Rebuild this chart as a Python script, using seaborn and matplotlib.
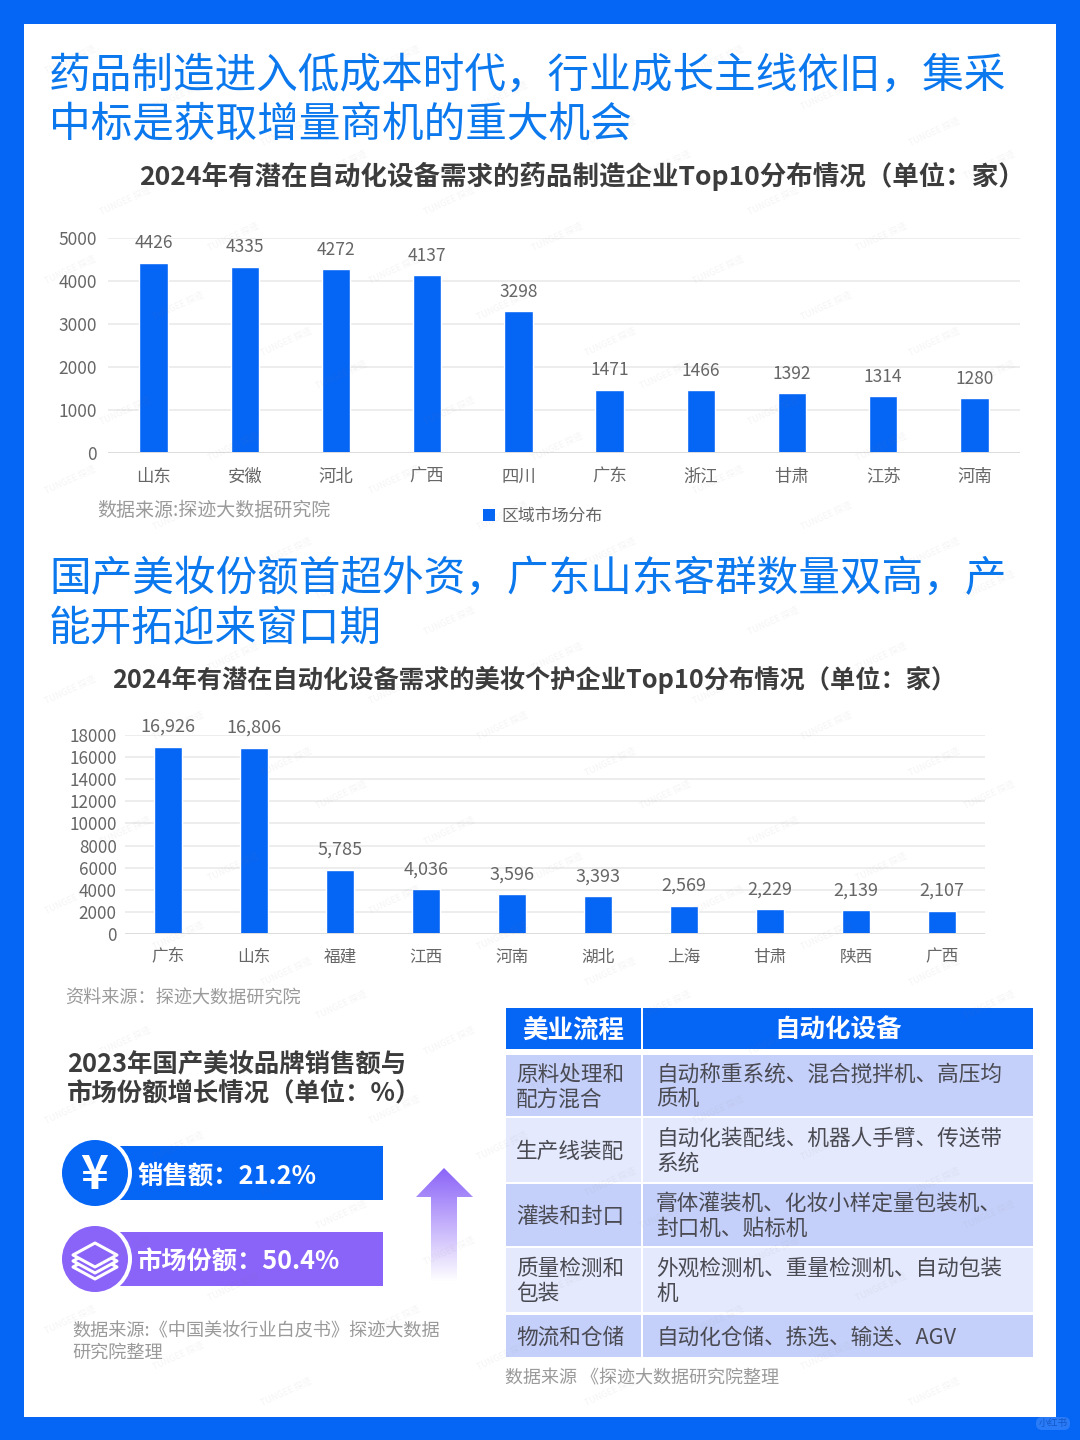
import numpy as np
import pandas as pd
import matplotlib.pyplot as plt
import seaborn as sns
from matplotlib.patches import Rectangle, Circle, Polygon, FancyBboxPatch

# data
pharma_regions = ['山东', '安徽', '河北', '广西', '四川', '广东', '浙江', '甘肃', '江苏', '河南']
pharma_counts = [4426, 4335, 4272, 4137, 3298, 1471, 1466, 1392, 1314, 1280]
beauty_regions = ['广东', '山东', '福建', '江西', '河南', '湖北', '上海', '甘肃', '陕西', '广西']
beauty_counts = [16926, 16806, 5785, 4036, 3596, 3393, 2569, 2229, 2139, 2107]
pharma_yticks = [0, 1000, 2000, 3000, 4000, 5000]
beauty_yticks = list(range(0, 18001, 2000))

process_col = ['原料处理和\n配方混合', '生产线装配', '灌装和封口', '质量检测和\n包装', '物流和仓储']
equip_col = ['自动称重系统、混合搅拌机、高压均\n质机', '自动化装配线、机器人手臂、传送带\n系统',
             '膏体灌装机、化妆小样定量包装机、\n封口机、贴标机', '外观检测机、重量检测机、自动包装\n机',
             '自动化仓储、拣选、输送、AGV']

BLUE = '#0565F5'
PURPLE = '#8A63F8'
HEAD = '#0B78EE'
DARK = '#3C3C3C'
GRAY = '#666666'
NOTE = '#9A9A9A'

sns.set_theme(style='white')
plt.rcParams['font.family'] = ['Noto Sans CJK SC', 'DejaVu Sans']

fig = plt.figure(figsize=(10.8, 14.4), dpi=100)
fig.patch.set_facecolor(BLUE)


def px_axes(x0, y0, x1, y1, z=2):
    # axes placed by pixel box, y counted from the top
    return fig.add_axes([x0 / 1080, 1 - y1 / 1440, (x1 - x0) / 1080, (y1 - y0) / 1440], zorder=z)


# page layer in pixel coordinates
bg = px_axes(0, 0, 1080, 1440, z=0)
bg.set_xlim(0, 1080)
bg.set_ylim(1440, 0)
bg.axis('off')
bg.add_patch(Rectangle((24, 24), 1032, 1393, fc='white', ec='none'))
bg.add_patch(FancyBboxPatch((1036, 1417), 34, 13, boxstyle='round,pad=0,rounding_size=6', fc='#2A7BF7', ec='none'))
bg.text(1053, 1423, '小红书', fontsize=7, color='#1458C8', ha='center', va='center')

bg.text(49, 76, '药品制造进入低成本时代，行业成长主线依旧，集采', fontsize=30, color=HEAD, va='center', weight='medium')
bg.text(49, 126, '中标是获取增量商机的重大机会', fontsize=30, color=HEAD, va='center', weight='medium')
bg.text(49, 579, '国产美妆份额首超外资，广东山东客群数量双高，产', fontsize=30, color=HEAD, va='center', weight='medium')
bg.text(49, 629, '能开拓迎来窗口期', fontsize=30, color=HEAD, va='center', weight='medium')
bg.text(139, 176, '2024年有潜在自动化设备需求的药品制造企业Top10分布情况（单位：家）',
        fontsize=19.1, color=DARK, weight='bold', va='center')
bg.text(112, 680, '2024年有潜在自动化设备需求的美妆个护企业Top10分布情况（单位：家）',
        fontsize=18.2, color=DARK, weight='bold', va='center')
bg.text(97, 510, '数据来源:探迹大数据研究院', fontsize=13.7, color=NOTE, va='center')
bg.text(65, 999, '资料来源：探迹大数据研究院', fontsize=13.1, color=NOTE, va='center')


def bar_chart(box, regions, counts, yticks, ymax, fmt, name, ytick_size, xtick_size, label_size, bar_w,
              xpad, ypad, label_pad):
    ax = px_axes(*box)
    df = pd.DataFrame({'region': regions, 'count': counts, 'kind': name})
    sns.barplot(data=df, x='region', y='count', hue='kind', palette=[BLUE], width=bar_w,
                ax=ax, saturation=1, legend=False)
    ax.set_ylim(0, ymax)
    ax.set_yticks(yticks)
    ax.set_xlabel('')
    ax.set_ylabel('')
    ax.patch.set_alpha(0)
    ax.grid(axis='y', color='#EAEAEA', lw=1.2)
    ax.set_axisbelow(True)
    sns.despine(ax=ax, left=True, bottom=True, top=True, right=True)
    ax.axhline(0, color='#DDDDDD', lw=1.4, zorder=1)
    ax.tick_params(axis='y', labelsize=ytick_size, labelcolor=GRAY, length=0, pad=ypad)
    ax.tick_params(axis='x', labelsize=xtick_size, labelcolor=GRAY, length=0, pad=xpad)
    ax.bar_label(ax.containers[0], fmt=fmt, padding=label_pad, fontsize=label_size, color=GRAY)
    return ax


ax1 = bar_chart((108, 238, 1020, 453), pharma_regions, pharma_counts, pharma_yticks, 5000,
                '{:.0f}', '区域市场分布', 12.5, 12.5, 12.5, 0.31, 10.5, 8, 7.5)
ax2 = bar_chart((125, 735, 985, 934), beauty_regions, beauty_counts, beauty_yticks, 18000,
                '{:,.0f}', '区域', 12.3, 12, 13, 0.32, 10.5, 6, 8)

# legend of the first chart
bg.add_patch(Rectangle((483, 509), 12, 12, fc=BLUE, ec='none'))
bg.text(501, 516, '区域市场分布', fontsize=12.2, color=GRAY, va='center')

# left panel
bg.text(67, 1064, '2023年国产美妆品牌销售额与', fontsize=18.3, color=DARK, weight='bold', va='center')
bg.text(67, 1094, '市场份额增长情况（单位：%）', fontsize=18.3, color=DARK, weight='bold', va='center')

bg.add_patch(Rectangle((118, 1146), 265, 54, fc=BLUE, ec='none'))
bg.add_patch(Rectangle((118, 1232), 265, 54, fc=PURPLE, ec='none'))
bg.add_patch(Circle((96, 1173), 36, fc='white', ec='none'))
bg.add_patch(Circle((95, 1173), 33, fc=BLUE, ec='none'))
bg.add_patch(Circle((96, 1259), 36, fc='white', ec='none'))
bg.add_patch(Circle((95, 1259), 33, fc=PURPLE, ec='none'))
bg.text(94, 1175, '¥', fontsize=34, color='white', weight='bold', ha='center', va='center')
for dy in (12, 6, 0):
    bg.add_patch(Polygon([(95, 1243 + dy), (117, 1255 + dy), (95, 1267 + dy), (73, 1255 + dy)],
                         fc=PURPLE, ec='white', lw=2.2, joinstyle='round'))
bg.text(137, 1176, '销售额：21.2%', fontsize=18.3, color='white', weight='bold', va='center')
bg.text(137, 1262, '市场份额：50.4%', fontsize=18.2, color='white', weight='bold', va='center')

# gradient arrow
grad = np.ones((200, 1, 4))
grad[:, 0, 0] = 0x8A / 255
grad[:, 0, 1] = 0x63 / 255
grad[:, 0, 2] = 0xF8 / 255
grad[:, 0, 3] = np.linspace(1, 0, 200)
im = bg.imshow(grad, extent=(416, 473, 1282, 1168), aspect='auto', zorder=2)
arrow = Polygon([(444, 1168), (473, 1197), (457, 1197), (457, 1282), (431, 1282), (431, 1197), (416, 1197)],
                transform=bg.transData, fc='none', ec='none')
bg.add_patch(arrow)
im.set_clip_path(arrow)
bg.set_xlim(0, 1080)
bg.set_ylim(1440, 0)

bg.text(72, 1331, '数据来源:《中国美妆行业白皮书》探迹大数据', fontsize=13.1, color=NOTE, va='center')
bg.text(72, 1353, '研究院整理', fontsize=13.1, color=NOTE, va='center')

# process table
col_x = [(506, 641), (643, 1033)]
row_y = [(1055, 1116), (1118, 1182), (1184, 1246), (1248, 1312), (1315, 1357)]
row_fill = ['#C5D0FA', '#E4E9FD', '#C5D0FA', '#E4E9FD', '#C5D0FA']
for (x0, x1), title in zip(col_x, ['美业流程', '自动化设备']):
    bg.add_patch(Rectangle((x0, 1008), x1 - x0, 41, fc=BLUE, ec='none'))
    bg.text((x0 + x1) / 2, 1030, title, fontsize=18.4, color='white', weight='bold', ha='center', va='center')
for (y0, y1), fill, proc, equip in zip(row_y, row_fill, process_col, equip_col):
    for x0, x1 in col_x:
        bg.add_patch(Rectangle((x0, y0), x1 - x0, y1 - y0, fc=fill, ec='none'))
    bg.text(516, (y0 + y1) / 2 + 1.5, proc, fontsize=15.6, color='#4A4A52', va='center', linespacing=1.17,
            weight='medium')
    bg.text(656, (y0 + y1) / 2 + 1.5, equip, fontsize=15.6, color='#4A4A52', va='center', linespacing=1.17,
            weight='medium')
bg.text(505, 1378, '数据来源 《探迹大数据研究院整理', fontsize=13, color=NOTE, va='center')

# faint watermark on top
top = px_axes(0, 0, 1080, 1440, z=5)
top.set_xlim(0, 1080)
top.set_ylim(1440, 0)
top.axis('off')
for row, y in enumerate(range(60, 1400, 105)):
    for x in range(70 + (row % 2) * 55, 1040, 108):
        top.text(x, y + 36 * ((x // 108) % 3), 'TUNGEE 探迹', fontsize=6.5, color='#888888', alpha=0.09,
                 rotation=25, ha='center', va='center', clip_on=True)

fig.savefig('out.png', dpi=100, facecolor=fig.get_facecolor())
